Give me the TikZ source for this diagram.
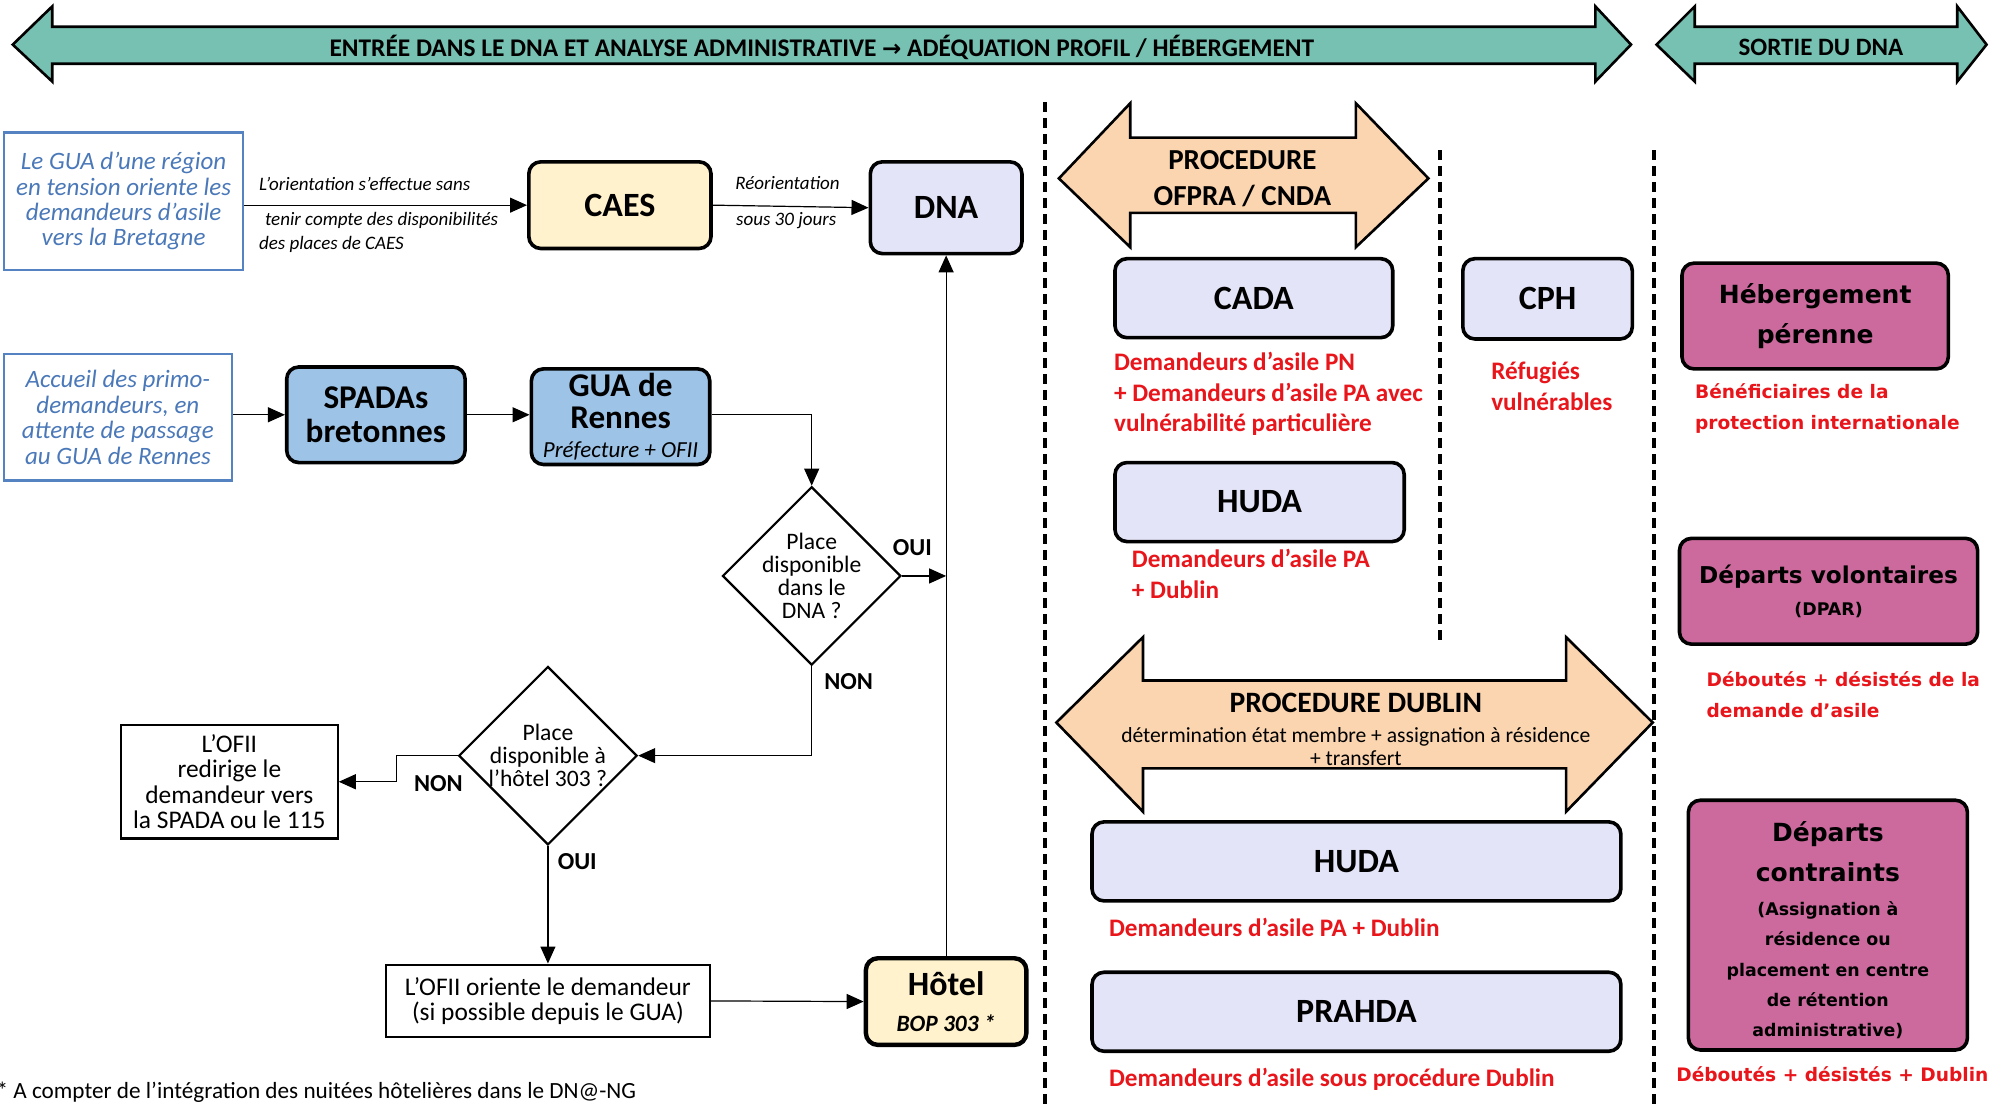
\documentclass[tikz,border=0pt]{standalone}
\usepackage{fontspec}
\setmainfont{Carlito}
\newfontfamily\djv{DejaVu Sans}
\usetikzlibrary{shapes.geometric,arrows.meta,calc}
\definecolor{cTeal}{HTML}{76C1B2}
\definecolor{cPeach}{HTML}{FBD5B0}
\definecolor{cLav}{HTML}{E4E4F8}
\definecolor{cYel}{HTML}{FFF2CC}
\definecolor{cBlue}{HTML}{9DC3E6}
\definecolor{cMag}{HTML}{CC6A9E}
\definecolor{cRed}{HTML}{E8151B}
\definecolor{cBlueTxt}{HTML}{4A78B8}
\definecolor{cBorder}{HTML}{5582C0}
\newcommand\myfs[2]{\fontsize{#1}{#2}\selectfont}
\newcommand\smd{\myfs{8.7}{15.3}}
\newcommand\smp{\mdseries\myfs{10.8}{12.4}}
\def\U{0.6371pt}
\tikzset{
 arr/.style={-{Triangle[length=8.5pt,width=7.5pt]}, line width=0.6pt},
 rbox/.style={draw, line width=1.8pt, rounded corners=6pt, align=center, inner sep=0pt},
 bbox/.style={draw=cBorder, line width=1.1pt, text=cBlueTxt, align=center, inner sep=0pt, font=\itshape\myfs{12.5}{12.7}},
 pbox/.style={draw, line width=1.1pt, align=center, inner sep=0pt, font=\myfs{12.7}{12.7}},
 dia/.style={diamond, draw, line width=1.1pt, inner sep=0pt},
 diat/.style={align=center, font=\myfs{11.8}{11.5}, inner sep=0pt},
 yn/.style={font=\bfseries\myfs{12.2}{12}, inner sep=0pt},
 elbl/.style={font=\itshape\myfs{9.5}{12}, anchor=west, inner sep=0pt},
 redt/.style={text=cRed, font=\bfseries\myfs{12.6}{15.3}, align=left, anchor=north west, inner sep=0pt},
 redr/.style={text=cRed, font=\djv\bfseries\myfs{9.3}{15.3}, align=left, anchor=north west, inner sep=0pt},
 big/.style={font=\bfseries\myfs{17}{19}},
 mag/.style={rbox, fill=cMag, font=\djv\bfseries\myfs{12.5}{20}},
 dashv/.style={line width=2pt, dash pattern=on 5pt off 3pt},
 band/.style={fill=cTeal, draw, line width=1.3pt, line join=miter},
 proc/.style={fill=cPeach, draw, line width=1.3pt, line join=miter},
 bandt/.style={font=\bfseries\myfs{12.7}{14}, inner sep=0pt},
 proct/.style={font=\bfseries\myfs{14.5}{17.8}, align=center, inner sep=0pt},
}
\begin{document}
\begin{tikzpicture}[x=0.6371pt,y=-0.6371pt]
\useasboundingbox (0,0) rectangle (1568,870);
% top bands
\draw[band] (10,35) -- (41,5) -- (41,21) -- (1252,21) -- (1252,5) -- (1280,35) -- (1252,64) -- (1252,50) -- (41,50) -- (41,64) -- cycle;
\node[bandt] (t1) at (645,37) {ENTRÉE DANS LE DNA ET ANALYSE ADMINISTRATIVE {\djv\bfseries\myfs{11.5}{14}→} ADÉQUATION PROFIL / HÉBERGEMENT};
\draw[band] (1300,35) -- (1330,5) -- (1330,21) -- (1536,21) -- (1536,5) -- (1559,35) -- (1536,64) -- (1536,50) -- (1330,50) -- (1330,64) -- cycle;
\node[bandt, font=\bfseries\myfs{12.5}{14}] (t2) at (1429,37) {SORTIE DU DNA};
% dashed separators
\draw[dashv] (820,80) -- (820,870);
\draw[dashv] (1130,118) -- (1130,502);
\draw[dashv] (1298,118) -- (1298,870);
% left part
\node[bbox, minimum width=188*\U, minimum height=108*\U] (gua1) at (97,158) {Le GUA d’une région\\en tension oriente les\\demandeurs d’asile\\vers la Bretagne};
\node[rbox, fill=cYel, big, minimum width=143*\U, minimum height=68*\U] (caes) at (486.5,161) {CAES};
\node[rbox, fill=cLav, big, minimum width=119*\U, minimum height=72*\U] (dna) at (742.5,163) {DNA};
\node[bbox, minimum width=179*\U, minimum height=99*\U] (acc) at (92.5,327.5) {Accueil des primo-\\demandeurs, en\\attente de passage\\au GUA de Rennes};
\node[rbox, fill=cBlue, font=\bfseries\myfs{16.6}{17}, minimum width=140*\U, minimum height=75*\U] (spada) at (295,325.5) {SPADAs\\bretonnes};
\node[rbox, fill=cBlue, font=\bfseries\myfs{16.6}{16}, minimum width=140*\U, minimum height=75*\U] (guar) at (487,327) {GUA de\\Rennes\\[-1.5pt]\mdseries\itshape\myfs{11.5}{14}Préfecture + OFII};
\node[dia, minimum width=140*\U, minimum height=140*\U] (d1) at (637,452) {};
\node[diat] (d1t) at (d1.center) {Place\\disponible\\dans le\\DNA ?};
\node[dia, minimum width=140*\U, minimum height=140*\U] (d2) at (430,593) {};
\node[diat] (d2t) at (d2.center) {Place\\disponible à\\l’hôtel 303 ?};
\node[pbox, minimum width=170*\U, minimum height=89*\U] (ofii1) at (180,613.5) {L’OFII\\redirige le\\demandeur vers\\la SPADA ou le 115};
\node[pbox, minimum width=254*\U, minimum height=57*\U] (ofii2) at (430,785.5) {L’OFII oriente le demandeur\\(si possible depuis le GUA)};
\node[rbox, fill=cYel, line width=2.2pt, font=\bfseries\myfs{17}{18}, minimum width=126*\U, minimum height=68*\U] (hotel) at (742.5,786) {Hôtel\\\itshape\myfs{11.7}{14}BOP 303 *};
\node[anchor=west, inner sep=0pt, font=\myfs{11.6}{12}] (fn) at (-3,857) {* A compter de l’intégration des nuitées hôtelières dans le DN@-NG};
% connectors left
\draw[arr] (gua1.east |- caes.west) -- (caes.west);
\node[elbl] (l1) at (203,144) {L’orientation s’effectue sans};
\node[elbl, align=left, anchor=north west] (l2) at (203,166) {\hspace*{3pt}tenir compte des disponibilités\\des places de CAES};
\draw[arr] (caes.east) -- (dna.west);
\node[elbl, anchor=center] (l3) at (618,144) {Réorientation};
\node[elbl, anchor=center] (l4) at (617,173) {sous 30 jours};
\draw[arr] (acc.east |- spada.west) -- (spada.west);
\draw[arr] (spada.east) -- (guar.west |- spada.east);
\draw[arr] (guar.east |- spada.east) -| (d1.north);
\draw[arr] (d1.east) -- (d1.east -| dna.south);
\node[yn] (oui1) at (716,430) {OUI};
\draw[arr] (hotel.north) -- (dna.south);
\draw[arr] (d1.south) |- (d2.east);
\node[yn] (non1) at (666,535) {NON};
\draw[arr] (d2.west) -- ++(-48,0) |- (ofii1.east);
\node[yn] (non2) at (344,615) {NON};
\draw[arr] (d2.south) -- (ofii2.north);
\node[yn] (oui2) at (453,676) {OUI};
\draw[arr] (ofii2.east) -- (hotel.west);
% middle part
\draw[proc] (831,140) -- (887,81) -- (887,108) -- (1064,108) -- (1064,81) -- (1121,140) -- (1064,194) -- (1064,167) -- (887,167) -- (887,194) -- cycle;
\node[proct] (p1) at (975,140) {PROCEDURE\\OFPRA / CNDA};
\node[rbox, fill=cLav, big, minimum width=218*\U, minimum height=62*\U] (cada) at (984,234) {CADA};
\node[redt] (cadar) at (874,276) {Demandeurs d’asile PN\\+ Demandeurs d’asile PA avec\\vulnérabilité particulière};
\node[rbox, fill=cLav, big, minimum width=227*\U, minimum height=62*\U] (huda1) at (988.5,394) {HUDA};
\node[redt] (huda1r) at (888,431) {Demandeurs d’asile PA\\+ Dublin};
\node[rbox, fill=cLav, big, minimum width=133*\U, minimum height=63*\U] (cph) at (1214.5,234.5) {CPH};
\node[redt] (cphr) at (1170,284) {Réfugiés\\vulnérables};
\draw[proc] (829,567) -- (897,500) -- (897,534) -- (1229,534) -- (1229,500) -- (1297,567) -- (1229,637) -- (1229,603) -- (897,603) -- (897,637) -- cycle;
\node[proct, font=\bfseries\myfs{14.8}{15}] (p2) at (1064,572) {PROCEDURE DUBLIN\\\smp détermination état membre + assignation à résidence\\[-3.5pt]\smp + transfert};
\node[rbox, fill=cLav, big, minimum width=415*\U, minimum height=62*\U] (huda2) at (1064.5,676) {HUDA};
\node[redt] (huda2r) at (870,720) {Demandeurs d’asile PA + Dublin};
\node[rbox, fill=cLav, big, minimum width=415*\U, minimum height=62*\U] (prahda) at (1064.5,794) {PRAHDA};
\node[redt] (prahdar) at (870,838) {Demandeurs d’asile sous procédure Dublin};
% right part
\node[mag, minimum width=209*\U, minimum height=83*\U] (heb) at (1424.5,248) {Hébergement\\pérenne};
\node[redr] (hebr) at (1330,301) {Bénéficiaires de la\\protection internationale};
\node[mag, font=\djv\bfseries\myfs{11.6}{18}, minimum width=234*\U, minimum height=83*\U] (dv) at (1435,464) {Départs volontaires\\[-2pt]\myfs{8.7}{13}(DPAR)};
\node[redr] (dvr) at (1339,527) {Déboutés + désistés de la\\demande d’asile};
\node[mag, minimum width=219*\U, minimum height=196*\U] (dc) at (1434.5,726) {\rule{0pt}{15pt}Départs\\contraints\\[-2.8pt]\smd(Assignation à\\[-4.9pt]\smd résidence ou\\[-4.9pt]\smd placement en centre\\[-4.9pt]\smd de rétention\\[-4.9pt]\smd administrative)};
\node[redr, anchor=center] (dcr) at (1438,843) {Déboutés + désistés + Dublin};
\end{tikzpicture}
\end{document}
